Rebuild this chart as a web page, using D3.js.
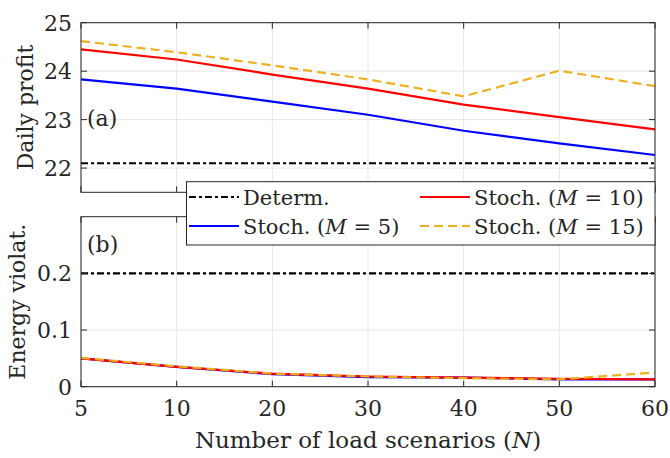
<!DOCTYPE html>
<html><head><meta charset="utf-8">
<script src="https://cdn.jsdelivr.net/npm/d3@7"></script>
<style>
body{margin:0;background:#fff;}
text{font-family:"DejaVu Serif",serif;fill:#262626;}
</style></head>
<body><svg id="c" width="670" height="458"></svg>
<script>
const categories = ["5","10","20","30","40","50","60"];
const profitDeterm = [22.1,22.1,22.1,22.1,22.1,22.1,22.1];
const profitM5  = [23.83,23.64,23.37,23.10,22.77,22.51,22.27];
const profitM10 = [24.45,24.24,23.93,23.64,23.31,23.05,22.80];
const profitM15 = [24.62,24.39,24.12,23.83,23.48,24.01,23.69];
const violDeterm = [0.2,0.2,0.2,0.2,0.2,0.2,0.2];
const violM5  = [0.050,0.035,0.022,0.017,0.016,0.013,0.013];
const violM10 = [0.050,0.035,0.023,0.018,0.016,0.014,0.013];
const violM15 = [0.051,0.036,0.023,0.018,0.015,0.013,0.025];
const profitTicks = [22,23,24,25];
const violTicks = [0,0.1,0.2];
const violTickLabels = ["0","0.1","0.2"];

const seriesStyle = [
  {name:"Determ.", color:"#000000", dash:"7,3,3,3"},
  {name:"M5", color:"#0000ff", dash:null},
  {name:"M10", color:"#ff0000", dash:null},
  {name:"M15", color:"#EDB120", dash:"9,5"}
];

const svg = d3.select("#c");
const L = 81, R = 655;
const x = d3.scalePoint().domain(categories).range([L,R]);
const yTop = d3.scaleLinear().domain([21.5,25]).range([192.3,22.7]);
const yBot = d3.scaleLinear().domain([0,0.3]).range([386.7,216.7]);
const FS = 22;

function panel(y, ticks, labels, data, showX){
  const [b,t] = y.range();
  const g = svg.append("g");
  g.selectAll(".gx").data(categories).enter().append("line")
    .attr("x1",d=>x(d)).attr("x2",d=>x(d)).attr("y1",t).attr("y2",b)
    .attr("stroke","#e6e6e6").attr("stroke-width",1);
  g.selectAll(".gy").data(ticks).enter().append("line")
    .attr("x1",L).attr("x2",R).attr("y1",d=>y(d)).attr("y2",d=>y(d))
    .attr("stroke","#e6e6e6").attr("stroke-width",1);
  const line = d3.line().x((d,i)=>x(categories[i])).y(d=>y(d));
  data.forEach((arr,k)=>{
    const s = seriesStyle[k];
    g.append("path").attr("d",line(arr)).attr("fill","none")
      .attr("stroke",s.color).attr("stroke-width",2.2)
      .attr("stroke-dasharray",s.dash);
  });
  g.append("rect").attr("x",L).attr("y",t).attr("width",R-L).attr("height",b-t)
    .attr("fill","none").attr("stroke","#262626").attr("stroke-width",1);
  const tl = 6;
  categories.forEach(c=>{
    g.append("line").attr("x1",x(c)).attr("x2",x(c)).attr("y1",b).attr("y2",b-tl).attr("stroke","#262626");
    g.append("line").attr("x1",x(c)).attr("x2",x(c)).attr("y1",t).attr("y2",t+tl).attr("stroke","#262626");
  });
  ticks.forEach(v=>{
    g.append("line").attr("x1",L).attr("x2",L+tl).attr("y1",y(v)).attr("y2",y(v)).attr("stroke","#262626");
    g.append("line").attr("x1",R).attr("x2",R-tl).attr("y1",y(v)).attr("y2",y(v)).attr("stroke","#262626");
  });
  g.selectAll(".yl").data(ticks).enter().append("text")
    .attr("x",72).attr("y",d=>y(d)).attr("dy","0.36em")
    .attr("text-anchor","end").attr("font-size",FS)
    .text((d,i)=>labels[i]);
  if(showX){
    g.selectAll(".xl").data(categories).enter().append("text")
      .attr("x",d=>x(d)).attr("y",416).attr("text-anchor","middle").attr("font-size",FS)
      .text(d=>d);
  }
  return g;
}

panel(yTop, profitTicks, profitTicks.map(String), [profitDeterm,profitM5,profitM10,profitM15], false);
panel(yBot, violTicks, violTickLabels, [violDeterm,violM5,violM10,violM15], true);

svg.append("text").attr("x",87).attr("y",126).attr("font-size",FS).text("(a)");
svg.append("text").attr("x",87).attr("y",252).attr("font-size",FS).text("(b)");

svg.append("text").attr("transform","translate(33,107.5) rotate(-90)")
  .attr("text-anchor","middle").attr("font-size",FS).text("Daily profit");
svg.append("text").attr("transform","translate(25,301.7) rotate(-90)")
  .attr("text-anchor","middle").attr("font-size",FS).text("Energy violat.");
const xl = svg.append("text").attr("x",(L+R)/2).attr("y",448).attr("text-anchor","middle").attr("font-size",23);
xl.append("tspan").text("Number of load scenarios (");
xl.append("tspan").attr("font-style","italic").text("N");
xl.append("tspan").text(")");

const lg = svg.append("g");
lg.append("rect").attr("x",186.5).attr("y",181.7).attr("width",655-186.5).attr("height",245-181.7)
  .attr("fill","#fff").attr("stroke","#262626").attr("stroke-width",1);
const legendItems = [
  {s:0, x0:189, row:0, label:["Determ.",null,null]},
  {s:2, x0:420, row:0, label:["Stoch. (","M"," = 10)"]},
  {s:1, x0:189, row:1, label:["Stoch. (","M"," = 5)"]},
  {s:3, x0:420, row:1, label:["Stoch. (","M"," = 15)"]}
];
legendItems.forEach(it=>{
  const st = seriesStyle[it.s];
  const cy = 197 + it.row*29;
  lg.append("line").attr("x1",it.x0).attr("x2",it.x0+50).attr("y1",cy).attr("y2",cy)
    .attr("stroke",st.color).attr("stroke-width",2.2).attr("stroke-dasharray",st.dash);
  const t = lg.append("text").attr("x",it.x0+54).attr("y",cy+7.5).attr("font-size",21).attr("xml:space","preserve");
  t.append("tspan").text(it.label[0]);
  if(it.label[1]){
    t.append("tspan").attr("font-style","italic").text(it.label[1]);
    t.append("tspan").text(it.label[2]);
  }
});
</script></body></html>
